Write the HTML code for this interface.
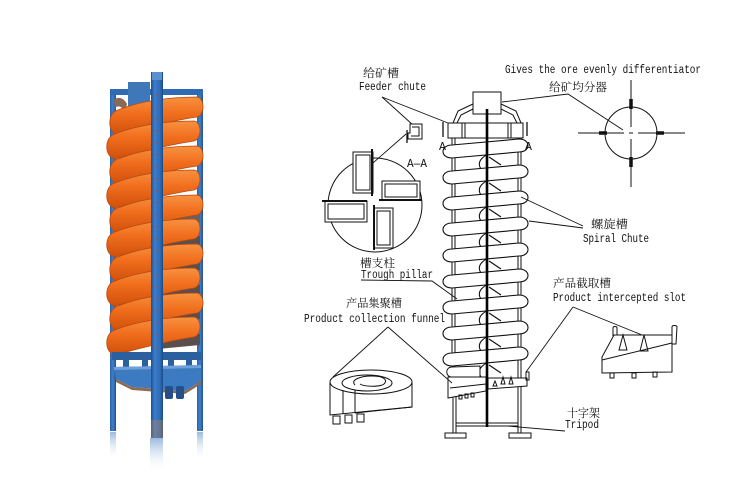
<!DOCTYPE html>
<html><head><meta charset="utf-8"><style>
html,body{margin:0;padding:0;background:#fff;}
svg{display:block;}
.t{font-family:"Liberation Mono","Noto Serif CJK SC",monospace;font-size:11.5px;fill:#111;}
.c{font-family:"Liberation Serif","Noto Serif CJK SC","Noto Sans CJK SC",serif;font-size:11.5px;fill:#111;}
</style></head><body>
<svg width="750" height="500" viewBox="0 0 750 500" xmlns="http://www.w3.org/2000/svg">
<defs>
<linearGradient id="og" x1="0" y1="0" x2="0" y2="1">
<stop offset="0" stop-color="#f8913f"/><stop offset="0.45" stop-color="#f06d1c"/><stop offset="1" stop-color="#cf500c"/>
</linearGradient>
<linearGradient id="col" x1="0" y1="0" x2="1" y2="0">
<stop offset="0" stop-color="#1f4f8e"/><stop offset="0.3" stop-color="#3b7ccc"/><stop offset="0.75" stop-color="#2f6cb6"/><stop offset="1" stop-color="#1c4a86"/>
</linearGradient>
<linearGradient id="post" x1="0" y1="0" x2="1" y2="0">
<stop offset="0" stop-color="#2a63ab"/><stop offset="0.5" stop-color="#3f80cc"/><stop offset="1" stop-color="#234f8c"/>
</linearGradient>
<linearGradient id="refl" x1="0" y1="0" x2="0" y2="1">
<stop offset="0" stop-color="#6f9bd0" stop-opacity="0.7"/><stop offset="1" stop-color="#ffffff" stop-opacity="0"/>
</linearGradient>
<path id="slab" d="M118,12 C140,3 170,-1 197,-1 C205,0 205,17 197,19 C170,23 140,31 118,37 C107,35 107,15 118,12 Z"/>
<g id="turn" fill="none" stroke="#111" stroke-width="1.1">
<path d="M500 152 C482 153 475 163 482 170"/>
<path d="M489 157 L501 165"/>
<path fill="#fff" d="M452 145 L519 139 C531 139 531 152 519 152 L452 158 C440 158 440 145 452 145 Z"/>
</g>
</defs>
<rect width="750" height="500" fill="#fff"/>

<!-- ========== PHOTO ========== -->
<rect x="110" y="432" width="6" height="28" fill="url(#refl)"/>
<rect x="150" y="438" width="13" height="34" fill="url(#refl)"/>
<rect x="197" y="432" width="6" height="28" fill="url(#refl)"/>
<rect x="110" y="89" width="6" height="342" fill="url(#post)"/>
<rect x="197" y="89" width="6" height="342" fill="url(#post)"/>
<rect x="110" y="89" width="93" height="6" fill="#2f6bb4"/>
<rect x="128" y="82" width="22" height="25" fill="#3f78b8"/>
<path d="M114 100 C118 96 124 98 127 104 L125 112 C122 106 118 105 115 108 Z" fill="#8a6a55"/>
<g fill="#5b4e4e">
<path d="M165 214 L200 212 L200 222 L165 226 Z" fill="#6d5f5c"/>
<path d="M160 238 L200 236 L200 246 L160 251 Z"/>
<path d="M160 262 L200 260 L200 270 L160 275 Z"/>
<path d="M158 287 L200 285 L200 295 L158 300 Z"/>
<path d="M158 311 L200 309 L200 319 L158 324 Z"/>
<path d="M158 336 L200 334 L200 345 L158 349 Z"/>
</g>
<g fill="url(#og)" stroke="#b94a10" stroke-width="0.8">
<use href="#slab" y="98"/>
<use href="#slab" y="122" transform="translate(-3,0)"/>
<use href="#slab" y="147"/>
<use href="#slab" y="171" transform="translate(-3,0)"/>
<use href="#slab" y="196"/>
<use href="#slab" y="220" transform="translate(-3,0)"/>
<use href="#slab" y="245"/>
<use href="#slab" y="269" transform="translate(-3,0)"/>
<use href="#slab" y="294"/>
<use href="#slab" y="318" transform="translate(-3,0)"/>
</g>
<rect x="112" y="352" width="89" height="8" fill="#2b5f9e"/>
<rect x="123" y="360" width="6" height="7" fill="#2b5f9e"/>
<rect x="142" y="360" width="6" height="7" fill="#2b5f9e"/>
<rect x="168" y="360" width="6" height="7" fill="#2b5f9e"/>
<rect x="186" y="360" width="6" height="7" fill="#2b5f9e"/>
<path d="M114 367 L201 365 L201 381 L185 391 L132 387 L116 379 Z" fill="#3c7bc2"/>
<path d="M116 379 L132 387 L185 391 L201 381 L201 384 L185 394 L132 390 L116 382 Z" fill="#8b6b52"/>
<path d="M114 367 L201 365 L201 368 L114 370 Z" fill="#6fa0d8"/>
<rect x="165" y="386" width="8" height="13" rx="2" fill="#244f88"/>
<rect x="176" y="386" width="8" height="13" rx="2" fill="#244f88"/>
<rect x="151" y="72" width="12" height="366" fill="url(#col)"/>
<rect x="152" y="72" width="10" height="8" fill="#5a8fd0"/>
<g fill="#a0522d">
<circle cx="157" cy="95" r="1"/><circle cx="157" cy="107" r="1"/><circle cx="157" cy="119" r="1"/><circle cx="157" cy="131" r="1"/>
<circle cx="157" cy="143" r="1"/><circle cx="157" cy="155" r="1"/><circle cx="157" cy="167" r="1"/><circle cx="157" cy="179" r="1"/>
<circle cx="157" cy="191" r="1"/><circle cx="157" cy="203" r="1"/><circle cx="157" cy="215" r="1"/><circle cx="157" cy="227" r="1"/>
<circle cx="157" cy="239" r="1"/><circle cx="157" cy="251" r="1"/><circle cx="157" cy="263" r="1"/><circle cx="157" cy="275" r="1"/>
<circle cx="157" cy="287" r="1"/><circle cx="157" cy="299" r="1"/><circle cx="157" cy="311" r="1"/><circle cx="157" cy="323" r="1"/>
<circle cx="157" cy="335" r="1"/><circle cx="157" cy="347" r="1"/>
</g>
<rect x="151" y="420" width="12" height="18" fill="#c8894a" opacity="0.35"/>

<!-- ========== DRAWING ========== -->
<g fill="none" stroke="#111" stroke-width="1">
<line x1="452" y1="138" x2="452" y2="377"/><line x1="455" y1="138" x2="455" y2="377"/>
<line x1="518" y1="138" x2="518" y2="433"/><line x1="521" y1="138" x2="521" y2="433"/>
<line x1="453" y1="397" x2="453" y2="433"/><line x1="456" y1="397" x2="456" y2="433"/>
<line x1="456" y1="423" x2="518" y2="423"/><line x1="456" y1="426" x2="518" y2="426"/>
<rect x="445" y="433" width="21" height="5" fill="#fff"/>
<rect x="509" y="433" width="22" height="5" fill="#fff"/>
</g>
<use href="#turn"/>
<use href="#turn" y="26"/>
<use href="#turn" y="52"/>
<use href="#turn" y="78"/>
<use href="#turn" y="104"/>
<use href="#turn" y="130"/>
<use href="#turn" y="156"/>
<use href="#turn" y="182"/>
<use href="#turn" y="208"/>
<g fill="none" stroke="#111" stroke-width="1">
<path fill="#fff" d="M452 367 L480 366 L480 377 L452 377 C445 377 445 367 452 367 Z"/>
<rect x="473" y="92" width="28" height="22" fill="#fff"/>
<polyline points="473,104 458,111 453,123"/><polyline points="473,109 461,115 457,123"/>
<polyline points="501,104 516,111 521,123"/><polyline points="501,109 513,115 517,123"/>
<rect x="448" y="123" width="75" height="15" fill="#fff"/>
<line x1="462" y1="123" x2="462" y2="138"/><line x1="465" y1="123" x2="465" y2="138"/>
<line x1="508" y1="123" x2="508" y2="138"/><line x1="511" y1="123" x2="511" y2="138"/>
<line x1="443" y1="122" x2="443" y2="137" stroke-width="1.3"/>
<line x1="527" y1="122" x2="527" y2="136" stroke-width="1.3"/>
<path fill="#fff" d="M448 377 L486 377 L486 391 L448 398 Z"/>
<line x1="450" y1="388" x2="486" y2="384"/>
<rect x="459" y="395" width="3" height="4"/><rect x="465" y="394" width="3" height="4"/><rect x="471" y="393" width="3" height="4"/>
<path fill="#fff" d="M488 378 L527 378 L527 386 L488 389 Z"/>
<path d="M495 381 L497 386 L493 386 Z M503 377 L505 384 L501 384 Z M511 377 L513 384 L509 384 Z"/>
<rect x="526" y="372" width="3" height="8"/>
</g>
<line x1="487" y1="109" x2="487" y2="427" stroke="#000" stroke-width="2.6"/>

<g fill="none" stroke="#111" stroke-width="0.9">
<line x1="382" y1="97" x2="413" y2="125"/>
<line x1="382" y1="97" x2="448" y2="123"/>
<polyline points="502,102 568,94 623,130"/>
<line x1="583" y1="226" x2="521" y2="197"/>
<line x1="583" y1="228" x2="529" y2="221"/>
<polyline points="361,280 432,281 457,299"/>
<line x1="388" y1="327" x2="333" y2="377"/>
<line x1="388" y1="327" x2="452" y2="383"/>
<line x1="573" y1="307" x2="526" y2="372"/>
<line x1="573" y1="307" x2="642" y2="335"/>
<line x1="507" y1="426" x2="565" y2="431"/>
<line x1="406" y1="134" x2="365" y2="170"/>
</g>

<g fill="none" stroke="#111" stroke-width="1">
<circle cx="375" cy="205" r="47"/>
<rect x="353" y="152" width="20" height="41" fill="#fff"/><rect x="356" y="155" width="14" height="35"/>
<line x1="372" y1="149" x2="372" y2="196" stroke-width="2"/>
<rect x="382" y="181" width="38" height="19" fill="#fff"/><rect x="385" y="184" width="32" height="13"/>
<line x1="379" y1="200" x2="422" y2="200" stroke-width="2"/>
<rect x="325" y="201" width="42" height="21" fill="#fff"/><rect x="328" y="204" width="36" height="15"/>
<line x1="322" y1="201" x2="367" y2="201" stroke-width="2"/>
<rect x="374" y="208" width="19" height="40" fill="#fff"/><rect x="377" y="211" width="13" height="34"/>
<line x1="374" y1="205" x2="374" y2="250" stroke-width="2"/>
<path fill="#fff" d="M410 124 L422 124 L422 139 L408 139 L408 133 L410 133 Z"/>
<path d="M412 127 L419 127 L419 136 L411 136"/>
<line x1="407" y1="130" x2="407" y2="143" stroke-width="1.3"/>
</g>

<g fill="none" stroke="#111" stroke-width="1">
<circle cx="631" cy="133" r="26"/>
<line x1="578" y1="133" x2="624" y2="133"/><line x1="638" y1="133" x2="685" y2="133"/>
<line x1="631" y1="80" x2="631" y2="127"/><line x1="631" y1="139" x2="631" y2="187"/>
<line x1="629" y1="133" x2="633" y2="133"/>
<g stroke-width="3.5"><line x1="599" y1="133" x2="607" y2="133"/><line x1="656" y1="133" x2="664" y2="133"/><line x1="631" y1="99" x2="631" y2="109"/><line x1="631" y1="157" x2="631" y2="167"/></g>
</g>

<g fill="none" stroke="#111" stroke-width="1">
<path fill="#fff" d="M330 382 L330 415 L412 407 L412 382 Z"/>
<ellipse cx="371" cy="382" rx="41" ry="12" fill="#fff"/>
<ellipse cx="367" cy="383" rx="25" ry="8"/>
<path d="M355 385 C350 380 360 376 372 376 C384 376 388 380 384 384 C380 387 365 387 360 384"/>
<line x1="343" y1="390" x2="343" y2="414"/>
<line x1="355" y1="390" x2="355" y2="413"/>
<line x1="355" y1="413" x2="412" y2="407"/>
<rect x="333" y="416" width="7" height="8"/><rect x="345" y="415" width="7" height="8"/><rect x="357" y="414" width="7" height="8"/>
</g>

<g fill="none" stroke="#111" stroke-width="1">
<path fill="#fff" d="M614 335 L672 335 L672 372 L602 373 L602 357 Z"/>
<line x1="602" y1="360" x2="672" y2="343"/>
<path d="M613 336 L613 328 C613 326 617 326 617 328 L617 335"/>
<path d="M672 344 L672 327 C672 325 677 325 677 327 L676 344 Z"/>
<path d="M623 335 L619 350 L627 350 Z"/>
<path d="M644 335 L640 351 L648 351 Z"/>
<rect x="610" y="373" width="4" height="5"/><rect x="632" y="373" width="4" height="5"/><rect x="653" y="372" width="4" height="5"/>
</g>

<text class="c" x="363" y="77" textLength="36" lengthAdjust="spacingAndGlyphs">给矿槽</text>
<text class="t" x="359" y="90" textLength="67" lengthAdjust="spacingAndGlyphs">Feeder chute</text>
<text class="t" x="505" y="73" textLength="196" lengthAdjust="spacingAndGlyphs">Gives the ore evenly differentiator</text>
<text class="c" x="549" y="91" textLength="58" lengthAdjust="spacingAndGlyphs">给矿均分器</text>
<text class="t" x="407" y="167" font-size="10" textLength="20" lengthAdjust="spacingAndGlyphs">A—A</text>
<text class="t" x="439" y="150" font-size="10">A</text>
<text class="t" x="525" y="150" font-size="10">A</text>
<text class="c" x="591" y="228" font-size="12.5" textLength="37" lengthAdjust="spacingAndGlyphs">螺旋槽</text>
<text class="t" x="583" y="242" textLength="66" lengthAdjust="spacingAndGlyphs">Spiral Chute</text>
<text class="c" x="360" y="267" textLength="35" lengthAdjust="spacingAndGlyphs">槽支柱</text>
<text class="t" x="361" y="278" textLength="72" lengthAdjust="spacingAndGlyphs">Trough pillar</text>
<text class="c" x="346" y="307" textLength="56" lengthAdjust="spacingAndGlyphs">产品集聚槽</text>
<text class="t" x="304" y="322" textLength="141" lengthAdjust="spacingAndGlyphs">Product collection funnel</text>
<text class="c" x="553" y="287" textLength="58" lengthAdjust="spacingAndGlyphs">产品截取槽</text>
<text class="t" x="553" y="301" textLength="133" lengthAdjust="spacingAndGlyphs">Product intercepted slot</text>
<text class="c" x="567" y="417" textLength="33" lengthAdjust="spacingAndGlyphs">十字架</text>
<text class="t" x="565" y="428" textLength="34" lengthAdjust="spacingAndGlyphs">Tripod</text>
</svg>
</body></html>
